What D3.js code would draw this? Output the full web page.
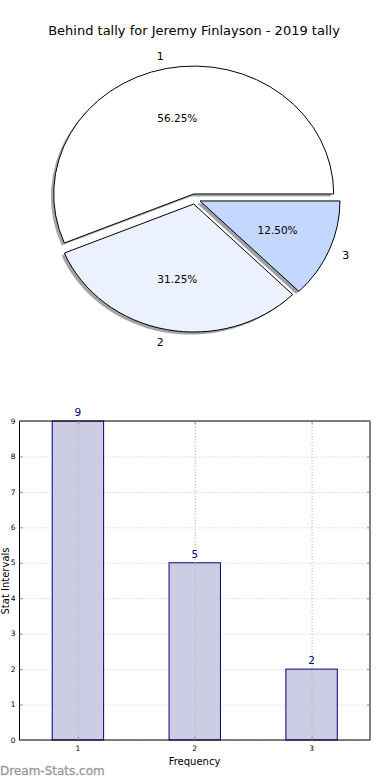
<!DOCTYPE html>
<html>
<head>
<meta charset="utf-8">
<script src="https://cdn.jsdelivr.net/npm/d3@7"></script>
<style>
  body { margin: 0; background: #fff; }
  svg { display: block; font-family: 'DejaVu Sans', sans-serif; }
</style>
</head>
<body>
<script>
/* global d3 */

// Data
const title = 'Behind tally for Jeremy Finlayson - 2019 tally';
const categories = ['1', '2', '3'];
const counts = [9, 5, 2];
const pieColors = ['#ffffff', '#ebf1ff', '#c4d8ff'];
const yTicks = [0, 1, 2, 3, 4, 5, 6, 7, 8, 9];

// SVG setup
const width = 390;
const height = 780;

const svg = d3.select('body')
.append('svg')
.attr('width', width)
.attr('height', height);

svg.append('text')
.attr('x', 194)
.attr('y', 35)
.attr('text-anchor', 'middle')
.attr('font-size', '13px')
.attr('fill', '#000')
.text(title);

// Pie (matplotlib style: start east, counterclockwise, exploded, shadow)
const cx = 194.8;
const cy = 199;
const rx = 140;
const ry = 128;
const explode = 0.04;
const total = d3.sum(counts);

const pie = d3.pie()
.sort(null)
.startAngle(Math.PI / 2)
.endAngle(Math.PI / 2 - 2 * Math.PI);

const arc = d3.arc().innerRadius(0).outerRadius(1);
const slices = pie(counts);
const mid = d => (d.startAngle + d.endAngle) / 2;
const dir = d => [Math.sin(mid(d)), -Math.cos(mid(d))];

const pieG = svg.append('g');

// shadows first
pieG.selectAll('path.shadow')
.data(slices)
.enter()
.append('path')
.attr('class', 'shadow')
.attr('transform', d => {
    const [ux, uy] = dir(d);
    return `translate(${cx + explode * rx * ux - 0.02 * rx},${cy + explode * ry * uy + 0.02 * ry}) scale(${rx},${ry})`;
})
.attr('d', arc)
.attr('fill', (d, i) => {
    const c = d3.rgb(pieColors[i]);
    return `rgb(${c.r * 0.3},${c.g * 0.3},${c.b * 0.3})`;
})
.attr('fill-opacity', 0.5);

pieG.selectAll('path.slice')
.data(slices)
.enter()
.append('path')
.attr('class', 'slice')
.attr('transform', d => {
    const [ux, uy] = dir(d);
    return `translate(${cx + explode * rx * ux},${cy + explode * ry * uy}) scale(${rx},${ry})`;
})
.attr('d', arc)
.attr('fill', (d, i) => pieColors[i])
.attr('stroke', '#000')
.attr('stroke-width', 1)
.attr('vector-effect', 'non-scaling-stroke');

pieG.selectAll('text.pct')
.data(slices)
.enter()
.append('text')
.attr('class', 'pct')
.attr('x', d => cx + (explode + 0.6) * rx * dir(d)[0])
.attr('y', d => cy + (explode + 0.6) * ry * dir(d)[1])
.attr('dy', '0.35em')
.attr('text-anchor', 'middle')
.attr('font-size', '10.5px')
.text(d => (d.value / total * 100).toFixed(2) + '%');

pieG.selectAll('text.lbl')
.data(slices)
.enter()
.append('text')
.attr('class', 'lbl')
.attr('x', d => cx + (explode + 1.1) * rx * dir(d)[0])
.attr('y', d => cy + (explode + 1.1) * ry * dir(d)[1])
.attr('dy', '0.35em')
.attr('text-anchor', d => dir(d)[0] < 0 ? 'end' : 'start')
.attr('font-size', '11px')
.text((d, i) => categories[i]);

// Bar chart
const plotLeft = 19.5;
const plotRight = 370;
const plotTop = 421;
const plotBottom = 740;

const xScale = d3.scaleLinear()
.domain([0.5, 3.5])
.range([plotLeft, plotRight]);

const yScale = d3.scaleLinear()
.domain([0, 9])
.range([plotBottom, plotTop]);

const barW = xScale(1.44) - xScale(1);
const gridColor = '#c8c8c8';

// horizontal grid (behind bars)
svg.append('g')
.selectAll('line')
.data(yTicks)
.enter()
.append('line')
.attr('x1', plotLeft)
.attr('x2', plotRight)
.attr('y1', d => yScale(d) + 0.5)
.attr('y2', d => yScale(d) + 0.5)
.attr('stroke', gridColor)
.attr('stroke-dasharray', '1,2');

svg.append('g')
.selectAll('rect')
.data(counts)
.enter()
.append('rect')
.attr('x', (d, i) => xScale(i + 1) - barW / 2)
.attr('y', d => yScale(d))
.attr('width', barW)
.attr('height', d => plotBottom - yScale(d))
.attr('fill', '#ccccE5')
.attr('stroke', '#000080')
.attr('stroke-width', 1);

// vertical grid (visible over bars)
svg.append('g')
.selectAll('line')
.data(categories)
.enter()
.append('line')
.attr('x1', (d, i) => xScale(i + 1) + 0.5)
.attr('x2', (d, i) => xScale(i + 1) + 0.5)
.attr('y1', plotTop)
.attr('y2', plotBottom)
.attr('stroke', '#b0b0b0')
.attr('stroke-dasharray', '1,2');

// value labels
svg.append('g')
.selectAll('text')
.data(counts)
.enter()
.append('text')
.attr('x', (d, i) => xScale(i + 1))
.attr('y', d => yScale(d) - 5)
.attr('text-anchor', 'middle')
.attr('font-size', '10.5px')
.attr('fill', '#000080')
.text(d => d);

// axes box
svg.append('rect')
.attr('x', plotLeft)
.attr('y', plotTop)
.attr('width', plotRight - plotLeft)
.attr('height', plotBottom - plotTop)
.attr('fill', 'none')
.attr('stroke', '#000')
.attr('stroke-width', 1);

// inward ticks
const tickG = svg.append('g').attr('stroke', '#888').attr('stroke-width', 1);
yTicks.forEach(t => {
    tickG.append('line').attr('x1', plotLeft).attr('x2', plotLeft + 3).attr('y1', yScale(t) + 0.5).attr('y2', yScale(t) + 0.5);
    tickG.append('line').attr('x1', plotRight - 3).attr('x2', plotRight).attr('y1', yScale(t) + 0.5).attr('y2', yScale(t) + 0.5);
});
categories.forEach((c, i) => {
    const x = xScale(i + 1) + 0.5;
    tickG.append('line').attr('x1', x).attr('x2', x).attr('y1', plotBottom).attr('y2', plotBottom - 3);
    tickG.append('line').attr('x1', x).attr('x2', x).attr('y1', plotTop).attr('y2', plotTop + 3);
});

// tick labels
svg.append('g')
.selectAll('text')
.data(yTicks)
.enter()
.append('text')
.attr('x', plotLeft - 4)
.attr('y', d => yScale(d))
.attr('dy', '0.35em')
.attr('text-anchor', 'end')
.attr('font-size', '7.5px')
.text(d => d);

svg.append('g')
.selectAll('text')
.data(categories)
.enter()
.append('text')
.attr('x', (d, i) => xScale(i + 1))
.attr('y', plotBottom + 11)
.attr('text-anchor', 'middle')
.attr('font-size', '7.5px')
.text(d => d);

// axis titles
svg.append('text')
.attr('x', 194.5)
.attr('y', 765)
.attr('text-anchor', 'middle')
.attr('font-size', '10px')
.text('Frequency');

svg.append('text')
.attr('transform', 'translate(9,581) rotate(-90)')
.attr('text-anchor', 'middle')
.attr('font-size', '10px')
.text('Stat Intervals');

// watermark
svg.append('text')
.attr('x', 0)
.attr('y', 775)
.attr('font-size', '12px')
.attr('fill', '#999999')
.attr('stroke', '#999999')
.attr('stroke-width', 0.3)
.text('Dream-Stats.com');
</script>
</body>
</html>
